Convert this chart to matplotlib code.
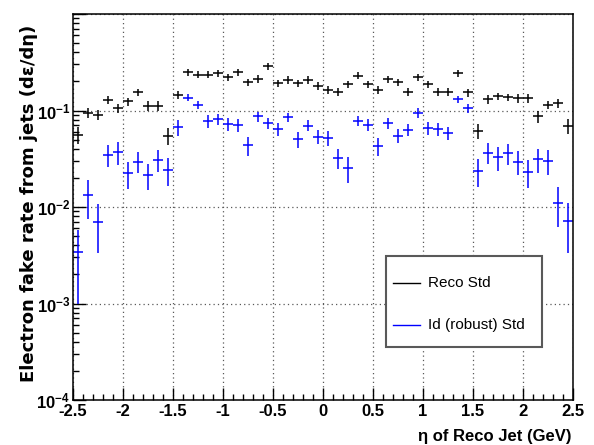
##
#  Electron fake rate from jets versus jet eta, ROOT-style log plot.
#

import numpy as np
import matplotlib
matplotlib.use('Agg')
import matplotlib.pyplot as plt
from matplotlib.patches import Rectangle
from matplotlib.ticker import FixedLocator, FuncFormatter, LogLocator, NullFormatter

plt.rcParams['font.family'] = ['Liberation Sans', 'DejaVu Sans']
plt.rcParams['mathtext.fontset'] = 'custom'
plt.rcParams['mathtext.rm'] = 'Liberation Sans'
plt.rcParams['mathtext.bf'] = 'Liberation Sans:bold'

# 50 bins of width 0.1 from -2.5 to 2.5
binEdges = np.linspace(-2.5, 2.5, 51)

recoStd = [0.056, 0.095, 0.090, 0.129, 0.106, 0.124, 0.155, 0.112, 0.112, 0.0546,
           0.146, 0.250, 0.235, 0.235, 0.242, 0.220, 0.250, 0.197, 0.213, 0.286,
           0.192, 0.208, 0.192, 0.208, 0.180, 0.164, 0.155, 0.187, 0.229, 0.187,
           0.164, 0.211, 0.197, 0.157, 0.222, 0.187, 0.155, 0.157, 0.244, 0.154,
           0.062, 0.131, 0.140, 0.137, 0.134, 0.134, 0.087, 0.1145, 0.119, 0.069]
recoErr = [0.011, 0.011, 0.011, 0.013, 0.012, 0.012, 0.014, 0.012, 0.012, 0.011,
           0.014, 0.020, 0.019, 0.019, 0.020, 0.018, 0.020, 0.017, 0.018, 0.022,
           0.017, 0.018, 0.017, 0.018, 0.016, 0.015, 0.015, 0.017, 0.019, 0.017,
           0.015, 0.018, 0.017, 0.015, 0.018, 0.017, 0.015, 0.015, 0.020, 0.015,
           0.011, 0.013, 0.013, 0.013, 0.013, 0.013, 0.012, 0.012, 0.012, 0.012]

idStd = [0.0034, 0.0133, 0.0070, 0.0347, 0.0375, 0.0224, 0.0296, 0.0215, 0.0308, 0.0242,
         0.0671, 0.136, 0.1145, 0.0781, 0.0819, 0.0722, 0.0710, 0.0434, 0.0867, 0.074,
         0.064, 0.0853, 0.0504, 0.0698, 0.0537, 0.0516, 0.0325, 0.0252, 0.0787, 0.071,
         0.043, 0.074, 0.0546, 0.063, 0.0953, 0.0656, 0.064, 0.059, 0.131, 0.106,
         0.0238, 0.0366, 0.0328, 0.036, 0.0296, 0.0233, 0.0313, 0.0303, 0.0111, 0.0072]
idErr = [0.0024, 0.0058, 0.0037, 0.009, 0.010, 0.007, 0.0073, 0.0064, 0.008, 0.0078,
         0.013, 0.012, 0.012, 0.012, 0.011, 0.011, 0.011, 0.010, 0.010, 0.010,
         0.010, 0.010, 0.010, 0.009, 0.009, 0.009, 0.0075, 0.0075, 0.010, 0.010,
         0.009, 0.010, 0.009, 0.009, 0.011, 0.010, 0.010, 0.009, 0.012, 0.012,
         0.0075, 0.009, 0.009, 0.009, 0.008, 0.0075, 0.009, 0.009, 0.0049, 0.0039]

xTicks = [-2.5, -2, -1.5, -1, -0.5, 0, 0.5, 1, 1.5, 2, 2.5]
xTickLabels = ['-2.5', '-2', '-1.5', '-1', '-0.5', '0', '0.5', '1', '1.5', '2', '2.5']

seriesNames = ['Reco Std', 'Id (robust) Std']
seriesColors = ['black', '#0000ff']

## Draws a ROOT-like legend box in axes coordinates.
#  @param ax the axes on which the legend is drawn
#
def drawLegend(ax):
   box = Rectangle((0.626, 0.137), 0.312, 0.236, transform=ax.transAxes,
                   facecolor='white', edgecolor='0.35', linewidth=1.5, zorder=5)
   ax.add_patch(box)
   rows = [0.303, 0.194]
   for name, color, yRow in zip(seriesNames, seriesColors, rows):
      ax.plot([0.640, 0.694], [yRow, yRow], color=color, linewidth=1,
              transform=ax.transAxes, zorder=6)
      ax.text(0.710, yRow, name, transform=ax.transAxes, fontsize=11,
              va='center', ha='left', zorder=6)

def main():
   fig = plt.figure(figsize=(5.94, 4.45), dpi=100)
   ax = fig.add_axes([73/594, 1 - 400/445, 500/594, 386/445])

   centers = 0.5*(binEdges[:-1] + binEdges[1:])
   halfWidth = 0.5*(binEdges[1] - binEdges[0])

   ax.errorbar(centers, recoStd, xerr=halfWidth, yerr=recoErr, fmt='none',
               ecolor=seriesColors[0], elinewidth=1.1, capsize=0)
   ax.errorbar(centers, idStd, xerr=halfWidth, yerr=idErr, fmt='none',
               ecolor=seriesColors[1], elinewidth=1.1, capsize=0)

   ax.set_yscale('log')
   ax.set_xlim(-2.5, 2.5)
   ax.set_ylim(1e-4, 1)

   ax.xaxis.set_major_locator(FixedLocator(xTicks))
   ax.set_xticklabels(xTickLabels, fontsize=12, fontweight='bold')
   ax.xaxis.set_minor_locator(FixedLocator(np.arange(-2.5, 2.51, 0.1)))
   ax.yaxis.set_major_locator(LogLocator(base=10, numticks=10))
   ax.yaxis.set_minor_locator(LogLocator(base=10, subs=np.arange(2, 10), numticks=10))
   ax.yaxis.set_minor_formatter(NullFormatter())
   ax.yaxis.set_major_formatter(FuncFormatter(
      lambda v, p: r'$\mathbf{10^{%d}}$' % int(round(np.log10(v))) if v < 0.5 else ''))
   ax.tick_params(axis='y', labelsize=12)

   ax.tick_params(which='major', direction='in', length=9, width=1, top=False, right=False)
   ax.tick_params(which='minor', direction='in', length=4.5, width=1, top=False, right=False)
   ax.tick_params(axis='x', which='major', pad=3)
   ax.tick_params(axis='y', which='major', pad=2)

   ax.grid(True, which='major', linestyle=(0, (1, 2.5)), color='0.35', linewidth=0.9)

   for sp in ax.spines.values():
      sp.set_linewidth(1.1)

   ax.set_ylabel('Electron fake rate from jets (d\u03b5/d\u03b7)', fontsize=13,
                 fontweight='bold', family=['DejaVu Sans'])
   ax.yaxis.set_label_coords(-0.069, 0.51)
   ax.set_xlabel('\u03b7 of Reco Jet (GeV)', fontsize=12, fontweight='bold', ha='right')
   ax.xaxis.set_label_coords(0.997, -0.075)

   drawLegend(ax)

   fig.savefig('out.png', dpi=100)

main()
